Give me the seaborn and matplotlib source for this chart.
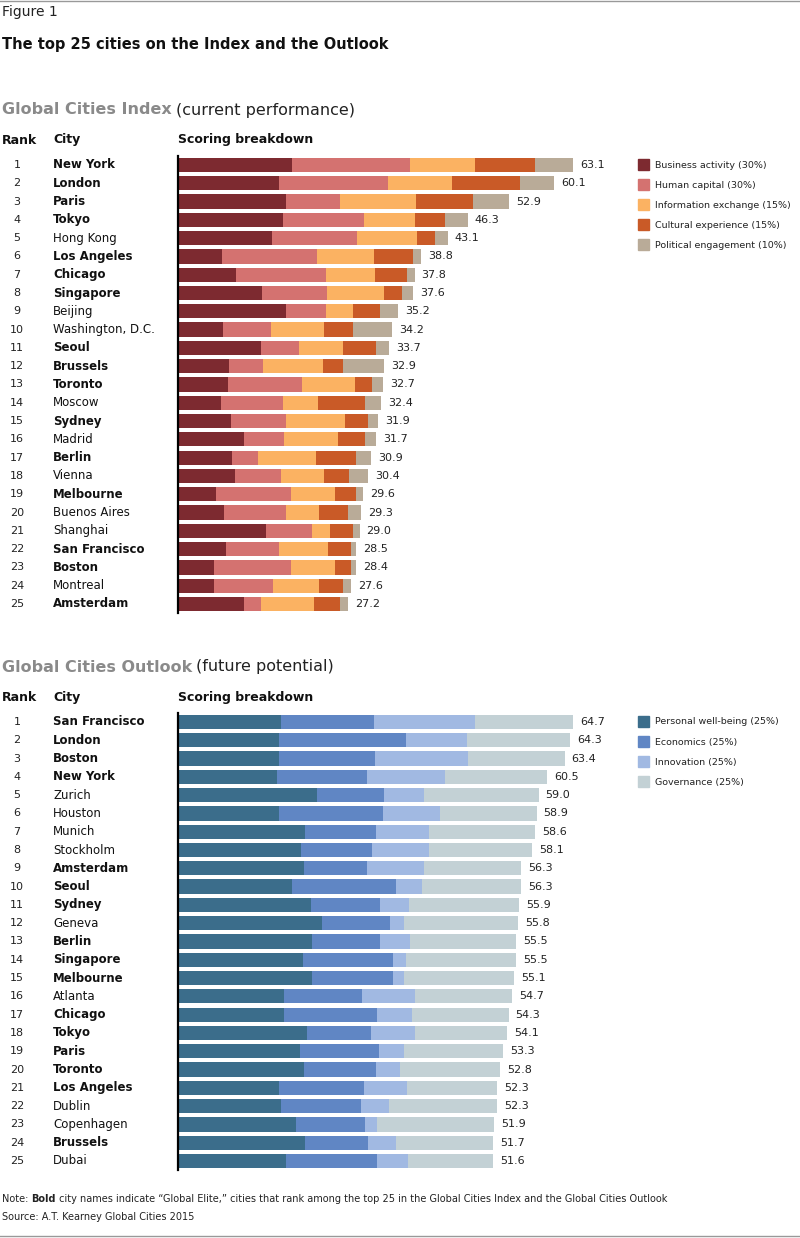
import numpy as np
import pandas as pd
import seaborn as sns
import matplotlib.pyplot as plt
from matplotlib.transforms import blended_transform_factory as blend

index_cities = ["New York", "London", "Paris", "Tokyo", "Hong Kong", "Los Angeles", "Chicago",
                "Singapore", "Beijing", "Washington, D.C.", "Seoul", "Brussels", "Toronto", "Moscow",
                "Sydney", "Madrid", "Berlin", "Vienna", "Melbourne", "Buenos Aires", "Shanghai",
                "San Francisco", "Boston", "Montreal", "Amsterdam"]
index_totals = [63.1, 60.1, 52.9, 46.3, 43.1, 38.8, 37.8, 37.6, 35.2, 34.2, 33.7, 32.9, 32.7, 32.4,
                31.9, 31.7, 30.9, 30.4, 29.6, 29.3, 29.0, 28.5, 28.4, 27.6, 27.2]
business = [18.2, 16.1, 17.3, 16.8, 15.0, 7.0, 9.3, 13.4, 17.3, 7.2, 13.3, 8.1, 8.0, 6.9, 8.5, 10.5,
            8.6, 9.1, 6.1, 7.3, 14.1, 7.7, 5.8, 5.8, 10.5]
human = [18.8, 17.4, 8.6, 12.9, 13.6, 15.2, 14.4, 10.4, 6.4, 7.7, 6.1, 5.4, 11.8, 9.9, 8.8, 6.4,
         4.2, 7.3, 12.0, 9.9, 7.3, 8.5, 12.3, 9.4, 2.7]
information = [10.4, 10.2, 12.1, 8.1, 9.6, 9.1, 7.8, 9.1, 4.3, 8.5, 6.9, 9.7, 8.5, 5.6, 9.3, 8.6,
               9.3, 6.9, 6.9, 5.4, 2.9, 7.7, 6.9, 7.3, 8.5]
cultural = [9.6, 11.0, 9.1, 4.8, 2.9, 6.2, 5.1, 2.9, 4.3, 4.5, 5.3, 3.2, 2.7, 7.5, 3.7, 4.3,
            6.4, 4.0, 3.5, 4.5, 3.7, 3.7, 2.7, 3.8, 4.2]
political = [6.1, 5.4, 5.8, 3.7, 2.0, 1.3, 1.2, 1.8, 2.9, 6.3, 2.1, 6.5, 1.7, 2.5, 1.6, 1.9,
             2.4, 3.1, 1.1, 2.2, 1.0, 0.9, 0.7, 1.3, 1.3]

outlook_cities = ["San Francisco", "London", "Boston", "New York", "Zurich", "Houston", "Munich",
                  "Stockholm", "Amsterdam", "Seoul", "Sydney", "Geneva", "Berlin", "Singapore",
                  "Melbourne", "Atlanta", "Chicago", "Tokyo", "Paris", "Toronto", "Los Angeles",
                  "Dublin", "Copenhagen", "Brussels", "Dubai"]
outlook_totals = [64.7, 64.3, 63.4, 60.5, 59.0, 58.9, 58.6, 58.1, 56.3, 56.3, 55.9, 55.8, 55.5,
                  55.5, 55.1, 54.7, 54.3, 54.1, 53.3, 52.8, 52.3, 52.3, 51.9, 51.7, 51.6]
wellbeing = [16.9, 16.6, 16.6, 16.2, 22.8, 16.6, 20.8, 20.2, 20.7, 18.7, 21.8, 23.6, 22.0, 20.5,
             22.0, 17.4, 17.4, 21.1, 20.0, 20.7, 16.6, 16.9, 19.3, 20.8, 17.7]
economics = [15.2, 20.8, 15.7, 14.8, 11.0, 17.0, 11.6, 11.6, 10.3, 17.0, 11.3, 11.1, 11.1, 14.8,
             13.3, 12.8, 15.2, 10.5, 13.0, 11.8, 13.9, 13.1, 11.3, 10.3, 14.9]
innovation = [16.6, 10.0, 15.2, 12.8, 6.6, 9.3, 8.7, 9.3, 9.3, 4.3, 4.8, 2.3, 4.9, 2.1, 1.8, 8.7,
              5.7, 7.2, 4.1, 3.9, 7.0, 4.6, 2.0, 4.6, 5.1]
governance = [16.1, 16.9, 15.9, 16.7, 18.7, 15.9, 17.5, 17.0, 15.9, 16.2, 18.0, 18.7, 17.4, 18.0,
              18.0, 15.9, 15.9, 15.2, 16.2, 16.4, 14.8, 17.7, 19.2, 15.9, 13.9]

index_labels = ["Business activity (30%)", "Human capital (30%)", "Information exchange (15%)",
                "Cultural experience (15%)", "Political engagement (10%)"]
index_colors = ["#7d2a30", "#d47270", "#fbb262", "#c95a27", "#b9ab98"]
outlook_labels = ["Personal well-being (25%)", "Economics (25%)", "Innovation (25%)", "Governance (25%)"]
outlook_colors = ["#3b6d8b", "#6086c4", "#a1b9e2", "#c3d1d5"]

elite = set(index_cities) & set(outlook_cities)

W, H = 800, 1238
fig = plt.figure(figsize=(W / 100, H / 100), dpi=100)
plt.rcParams['font.family'] = ['DejaVu Sans']


def fy(py):
    return 1 - py / H


fig.add_artist(plt.Line2D([0, 1], [fy(1), fy(1)], color="#999999", lw=1))
fig.add_artist(plt.Line2D([0, 1], [fy(1236), fy(1236)], color="#999999", lw=1))
fig.text(2 / W, fy(12), "Figure 1", fontsize=10, va="center", color="#222222")
fig.text(2 / W, fy(45), "The top 25 cities on the Index and the Outlook", fontsize=10.5,
         fontweight="bold", va="center", color="#111111")


def panel(top_row, name, sub, cities, totals, segs, labels, colors, scale):
    top = top_row - 9.15
    bot = top_row + 24 * 18.29 + 9.15
    ax = fig.add_axes([178 / W, fy(bot), 442 / W, (bot - top) / H])
    cum = np.cumsum(np.array(segs), axis=0)
    df = pd.DataFrame({"city": cities})
    for i in range(len(segs) - 1, -1, -1):
        df["v"] = cum[i]
        sns.barplot(data=df, x="v", y="city", color=colors[i], width=0.78, saturation=1,
                    orient="h", ax=ax, edgecolor="none")
    ax.set_xlim(0, 442 / scale)
    ax.set_ylim(24.5, -0.5)
    for s in ["top", "right", "bottom"]:
        ax.spines[s].set_visible(False)
    ax.spines["left"].set_color("black")
    ax.spines["left"].set_linewidth(1.6)
    ax.set_xticks([])
    ax.set_yticks([])
    ax.set_xlabel("")
    ax.set_ylabel("")
    tr = blend(fig.transFigure, ax.transData)
    for i, (c, t) in enumerate(zip(cities, totals)):
        ax.text(cum[-1][i] + 7 / scale, i, f"{t:.1f}", fontsize=8, va="center", color="#222222")
        fig.text(17 / W, 0, str(i + 1), transform=tr, fontsize=8, ha="center", va="center",
                 color="#222222").set_y(i)
        fig.text(53 / W, 0, c, transform=tr, fontsize=8.5, va="center", color="#111111",
                 fontweight="bold" if c in elite else "normal").set_y(i)
    # legend
    for j, (lab, col) in enumerate(zip(labels, colors)):
        y = top_row + j * 20
        fig.patches.append(plt.Rectangle((638 / W, fy(y + 5)), 11 / W, 11 / H, color=col,
                                         transform=fig.transFigure, figure=fig))
        fig.text(655 / W, fy(y), lab, fontsize=6.8, va="center", color="#222222")
    hy = top_row - 55
    t1 = fig.text(2 / W, fy(hy), name, fontsize=11.5, fontweight="bold", va="center", color="#8a8a8a")
    fig.canvas.draw()
    bb = t1.get_window_extent()
    fig.text(bb.x1 / W + 4 / W, fy(hy), sub, fontsize=11.5, va="center", color="#222222")
    for x, s in [(2, "Rank"), (53, "City"), (178, "Scoring breakdown")]:
        fig.text(x / W, fy(top_row - 25), s, fontsize=9, fontweight="bold", va="center", color="#111111")


panel(165, "Global Cities Index", "(current performance)", index_cities, index_totals,
      [business, human, information, cultural, political], index_labels, index_colors, 6.26)
panel(722, "Global Cities Outlook", "(future potential)", outlook_cities, outlook_totals,
      [wellbeing, economics, innovation, governance], outlook_labels, outlook_colors, 6.1)

n1 = fig.text(2 / W, fy(1199), "Note: ", fontsize=7, va="center", color="#222222")
fig.canvas.draw()
x = n1.get_window_extent().x1
n2 = fig.text(x / W, fy(1199), "Bold", fontsize=7, fontweight="bold", va="center", color="#222222")
fig.canvas.draw()
x = n2.get_window_extent().x1
fig.text(x / W, fy(1199), " city names indicate \u201cGlobal Elite,\u201d cities that rank among the top 25 "
         "in the Global Cities Index and the Global Cities Outlook", fontsize=7, va="center", color="#222222")
fig.text(2 / W, fy(1217), "Source: A.T. Kearney Global Cities 2015", fontsize=7, va="center", color="#222222")

fig.savefig("out.png", dpi=100)
